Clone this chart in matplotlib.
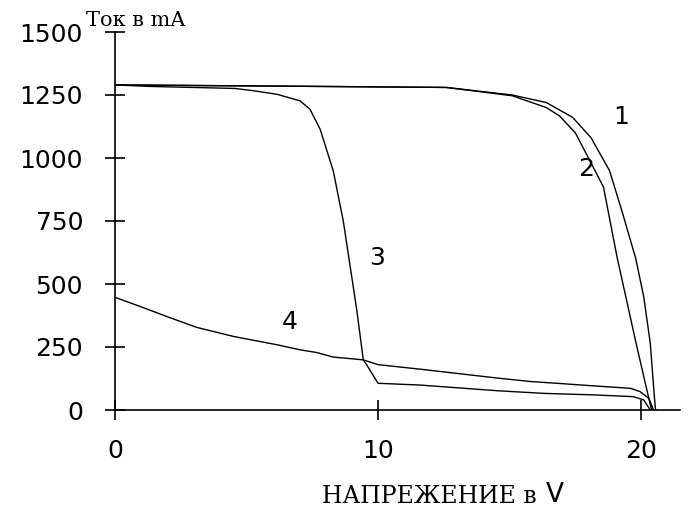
import numpy as np
import matplotlib
matplotlib.use("Agg")
import matplotlib.pyplot as plt

# curve 1
c1_x = [0, 6.6, 12.6, 15.1, 16.4, 17.4, 18.1, 18.8, 19.3, 19.8, 20.1, 20.35, 20.5, 20.55]
c1_y = [1290, 1285, 1280, 1250, 1220, 1161, 1080, 950, 780, 600, 450, 265, 60, 0]
# curve 2
c2_x = [0, 6.6, 12.6, 15.1, 16.4, 16.9, 17.5, 18.0, 18.57, 19.1, 19.8, 20.25, 20.4]
c2_y = [1290, 1285, 1280, 1247, 1200, 1167, 1100, 1000, 885, 600, 270, 66, 0]
# curve 3
c3_x = [0, 1.33, 4.56, 5.26, 6.15, 7.03, 7.41, 7.8, 8.3, 8.68, 8.94, 9.19, 9.44, 9.57,
        10.0, 11.6, 14.6, 16.3, 18.2, 19.7, 20.1, 20.35]
c3_y = [1290, 1284, 1276, 1267, 1253, 1227, 1194, 1114, 948, 749, 570, 398, 199, 179,
        106, 99, 76, 66, 60, 53, 40, 0]
# curve 4
c4_x = [0, 0.95, 1.97, 3.1, 4.5, 6.15, 7.03, 7.67, 8.3, 9.44, 10.0, 11.6, 14.6, 15.8,
        16.8, 18.3, 19.6, 19.96, 20.3, 20.47]
c4_y = [447, 411, 371, 328, 292, 259, 239, 228, 210, 199, 180, 162, 126, 113,
        106, 95, 86, 73, 46, 0]

curve_labels = ["1", "2", "3", "4"]
label_x = [19.24, 17.93, 9.95, 6.65]
label_y = [1162, 955, 605, 350]

x_ticks = [0, 10, 20]
y_ticks = [0, 250, 500, 750, 1000, 1250, 1500]

fig = plt.figure(figsize=(6.91, 5.09), dpi=100)
ax = fig.add_axes([115/691, 99/509, 565/691, 378/509])

for xs, ys in [(c1_x, c1_y), (c2_x, c2_y), (c3_x, c3_y), (c4_x, c4_y)]:
    ax.plot(xs, ys, color="black", lw=1.0)

for t, x, y in zip(curve_labels, label_x, label_y):
    ax.text(x, y, t, fontsize=18, family="DejaVu Sans", ha="center", va="center")

ax.set_xlim(0, 21.48)
ax.set_ylim(0, 1500)
ax.spines["top"].set_visible(False)
ax.spines["right"].set_visible(False)
ax.spines["left"].set_linewidth(1.2)
ax.spines["bottom"].set_linewidth(1.2)
ax.set_xticks(x_ticks)
ax.set_yticks(y_ticks)
ax.tick_params(direction="inout", length=14, width=1.2, pad=16,
               labelsize=18, colors="black")
ax.tick_params(axis="x", pad=14)
for lab in ax.get_xticklabels() + ax.get_yticklabels():
    lab.set_family("DejaVu Sans")

fig.text(86/691, (509-26)/509, "Ток в mA", family="DejaVu Serif", fontsize=15,
         ha="left", va="baseline")
fig.text(322/691, (509-503)/509, "НАПРЕЖЕНИЕ в", family="DejaVu Serif", fontsize=17,
         ha="left", va="baseline")
fig.text(546/691, (509-502)/509, "V", family="DejaVu Sans", fontsize=19,
         ha="left", va="baseline")

fig.savefig("out.png", dpi=100)
